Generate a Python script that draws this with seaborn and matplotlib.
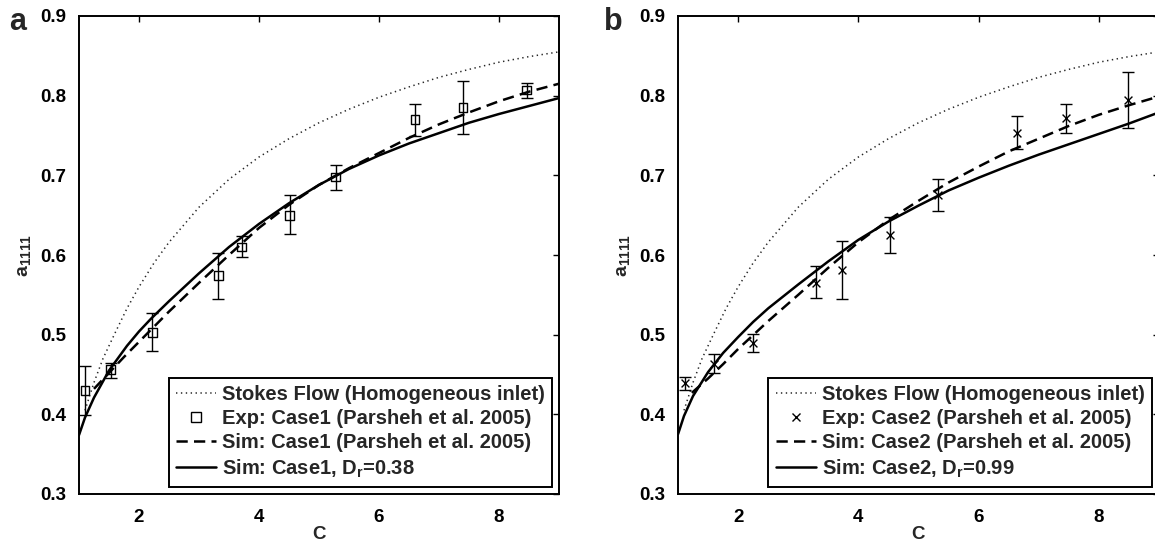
import matplotlib
matplotlib.use("Agg")
import matplotlib.pyplot as plt
from matplotlib.lines import Line2D
import numpy as np
import seaborn as sns

# Stokes flow (homogeneous inlet), same curve in both panels
c_stokes = [1.10, 1.25, 1.40, 1.60, 1.80, 2.00, 2.25, 2.50, 3.00, 3.50, 4.00, 4.50,
            5.00, 5.50, 6.00, 6.50, 7.00, 7.50, 8.00, 8.50, 9.00]
a_stokes = [0.405, 0.440, 0.470, 0.502, 0.533, 0.560, 0.590, 0.616, 0.660, 0.695, 0.723, 0.746,
            0.766, 0.783, 0.798, 0.811, 0.823, 0.833, 0.842, 0.849, 0.855]

# Panel a: Case1
c_exp1 = [1.10, 1.53, 2.22, 3.32, 3.71, 4.51, 5.28, 6.60, 7.40, 8.46]
a_exp1 = [0.430, 0.456, 0.503, 0.574, 0.610, 0.650, 0.698, 0.770, 0.785, 0.807]
a_exp1_lo = [0.399, 0.446, 0.480, 0.545, 0.597, 0.626, 0.682, 0.750, 0.752, 0.797]
a_exp1_hi = [0.461, 0.465, 0.527, 0.602, 0.624, 0.675, 0.713, 0.790, 0.818, 0.816]

c_ref1 = [1.25, 1.50, 1.75, 2.00, 2.50, 3.00, 3.50, 4.00, 4.50, 5.00, 5.50, 6.00,
          6.50, 7.00, 7.50, 8.00, 8.50, 9.00]
a_ref1 = [0.432, 0.452, 0.472, 0.491, 0.529, 0.565, 0.600, 0.634, 0.663, 0.688, 0.709, 0.728,
          0.747, 0.764, 0.779, 0.793, 0.805, 0.815]

c_sim1 = [1.00, 1.10, 1.25, 1.50, 1.80, 2.00, 2.20, 2.50, 3.00, 3.50, 4.00, 4.50, 5.00,
          5.50, 6.00, 6.50, 7.00, 7.50, 8.00, 8.50, 9.00]
a_sim1 = [0.374, 0.396, 0.421, 0.455, 0.486, 0.504, 0.520, 0.542, 0.577, 0.610, 0.639, 0.665, 0.688,
          0.708, 0.725, 0.740, 0.753, 0.766, 0.777, 0.787, 0.797]

# Panel b: Case2
c_exp2 = [1.12, 1.60, 2.25, 3.30, 3.73, 4.52, 5.33, 6.64, 7.46, 8.49]
a_exp2 = [0.439, 0.463, 0.490, 0.565, 0.581, 0.625, 0.675, 0.753, 0.772, 0.795]
a_exp2_lo = [0.431, 0.452, 0.478, 0.546, 0.545, 0.603, 0.655, 0.733, 0.753, 0.760]
a_exp2_hi = [0.447, 0.476, 0.501, 0.586, 0.618, 0.648, 0.696, 0.775, 0.789, 0.830]

c_ref2 = [1.23, 1.50, 1.75, 2.00, 2.50, 3.00, 3.50, 4.00, 4.50, 5.00, 5.50, 6.00,
          6.50, 7.00, 7.50, 8.00, 8.50, 9.00]
a_ref2 = [0.427, 0.445, 0.463, 0.482, 0.517, 0.550, 0.584, 0.616, 0.644, 0.668, 0.691, 0.711,
          0.730, 0.746, 0.762, 0.776, 0.788, 0.799]

c_sim2 = [1.00, 1.10, 1.25, 1.50, 1.75, 2.00, 2.25, 2.50, 3.00, 3.50, 4.00, 4.50, 5.00, 5.50,
          6.00, 6.50, 7.00, 7.50, 8.00, 8.50, 9.00]
a_sim2 = [0.375, 0.398, 0.423, 0.453, 0.477, 0.497, 0.516, 0.533, 0.563, 0.592, 0.619, 0.642, 0.662,
          0.681, 0.697, 0.712, 0.726, 0.739, 0.752, 0.765, 0.779]

sns.set_theme(style="white")
plt.rcParams['font.family'] = ['Liberation Sans', 'DejaVu Sans']
plt.rcParams['font.weight'] = 'bold'
plt.rcParams['axes.labelweight'] = 'bold'
plt.rcParams['mathtext.fontset'] = 'custom'
plt.rcParams['mathtext.rm'] = 'Liberation Sans:bold'
plt.rcParams['mathtext.it'] = 'Liberation Sans:bold'
plt.rcParams['mathtext.bf'] = 'Liberation Sans:bold'

fig = plt.figure(figsize=(11.55, 5.47), dpi=100)
bottom = 53 / 547
height = 478 / 547
ax_a = fig.add_axes([79 / 1155, bottom, 480 / 1155, height])
ax_b = fig.add_axes([678 / 1155, bottom, 481 / 1155, height])

dot_style = dict(color='0.15', lw=1.1, linestyle=(0, (0.9, 2.3)))
dash_style = dict(color='black', lw=1.8, linestyle=(0, (4.5, 2.5)))
solid_style = dict(color='black', lw=1.8, linestyle='-')

panels = [
    (ax_a, c_exp1, a_exp1, a_exp1_lo, a_exp1_hi, c_ref1, a_ref1, c_sim1, a_sim1,
     's', 'Case1', '0.38'),
    (ax_b, c_exp2, a_exp2, a_exp2_lo, a_exp2_hi, c_ref2, a_ref2, c_sim2, a_sim2,
     'x', 'Case2', '0.99'),
]

for ax, cx, ay, lo, hi, cr, ar, cs, asim, mk, case, dr in panels:
    sns.lineplot(x=c_stokes, y=a_stokes, ax=ax, **dot_style)
    sns.lineplot(x=cr, y=ar, ax=ax, **dash_style)
    sns.lineplot(x=cs, y=asim, ax=ax, **solid_style)

    ay_arr = np.array(ay)
    yerr = [ay_arr - np.array(lo), np.array(hi) - ay_arr]
    ax.errorbar(cx, ay, yerr=yerr, fmt='none', ecolor='black', elinewidth=1.0,
                capsize=4.5, capthick=1.0, zorder=3)
    if mk == 's':
        sns.scatterplot(x=cx, y=ay, ax=ax, marker='s', s=40, facecolor='none',
                        edgecolor='black', linewidth=1.0, zorder=4)
    else:
        sns.scatterplot(x=cx, y=ay, ax=ax, marker='x', s=32, color='black',
                        linewidth=1.0, zorder=4)

    ax.set_xlim(1, 9)
    ax.set_ylim(0.3, 0.9)
    ax.set_xticks([2, 4, 6, 8])
    ax.set_yticks([0.3, 0.4, 0.5, 0.6, 0.7, 0.8, 0.9])
    ax.set_yticklabels(['0.3', '0.4', '0.5', '0.6', '0.7', '0.8', '0.9'])
    ax.tick_params(direction='in', top=True, right=True, length=4, width=1,
                   labelsize=13.5, colors='black')
    ax.tick_params(axis='x', pad=11)
    ax.tick_params(axis='y', pad=9)
    for sp in ax.spines.values():
        sp.set_visible(True)
        sp.set_color('black')
        sp.set_linewidth(1.4)
    ax.set_xlabel('C', fontsize=13.5, labelpad=0)
    ax.set_ylabel(r'$\mathbf{a_{1111}}$', fontsize=14, labelpad=5)

    handles = [
        Line2D([], [], **dot_style),
        Line2D([], [], marker=mk, linestyle='none', color='black', markerfacecolor='none',
               markersize=6.5 if mk == 's' else 6, markeredgewidth=1.0),
        Line2D([], [], **dash_style),
        Line2D([], [], **solid_style),
    ]
    labels = [
        'Stokes Flow (Homogeneous inlet)',
        'Exp: %s (Parsheh et al. 2005)' % case,
        'Sim: %s (Parsheh et al. 2005)' % case,
        r'Sim: %s, $\mathbf{D_r}$=%s' % (case, dr),
    ]
    leg = ax.legend(handles, labels, loc='lower right', bbox_to_anchor=(0.985, 0.015),
                    borderaxespad=0, fancybox=False, framealpha=1, edgecolor='black',
                    prop={'size': 14.5, 'weight': 'bold'}, handlelength=2.0,
                    handletextpad=0.3, labelspacing=0.25, borderpad=0.35)
    leg.get_frame().set_linewidth(1.4)

fig.text(9 / 1155, 1 - 30 / 547, 'a', fontsize=22, fontweight='bold')
fig.text(604 / 1155, 1 - 30 / 547, 'b', fontsize=22, fontweight='bold')

fig.savefig('out.png', dpi=100)
